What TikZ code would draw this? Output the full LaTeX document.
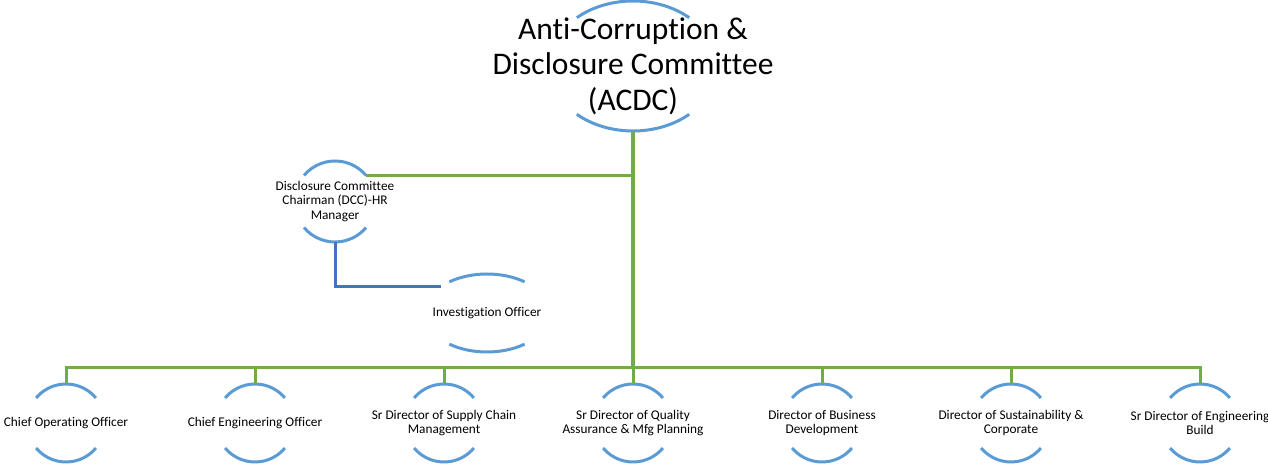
\documentclass[tikz,border=0pt]{standalone}
\usepackage{fontspec}
\setmainfont{Carlito}[Ligatures=NoCommon]
\usepackage{tikz}
\usetikzlibrary{shapes.geometric}

\definecolor{ringblue}{HTML}{5B9BD5}
\definecolor{linkgreen}{HTML}{70AD47}
\definecolor{assistblue}{HTML}{4472C4}

\begin{document}
\begin{tikzpicture}[x=1pt,y=1pt]
\tikzstyle{every node} = [font=\fontsize{13.3}{14.6}\selectfont, align=center]
\tikzstyle{ring} = [circle, inner sep=0pt, outer sep=0pt, minimum size=78pt]
\tikzstyle{oval} = [ellipse, inner sep=0pt, outer sep=0pt]
\tikzstyle{title} = [font=\fontsize{31.5}{35.5}\selectfont]
\tikzstyle{rim} = [draw=ringblue, line width=3pt]
\tikzstyle{link} = [draw=linkgreen, line width=3pt]
\tikzstyle{trunk} = [draw=linkgreen, line width=4pt]
\tikzstyle{helper} = [draw=assistblue, line width=3pt]
\useasboundingbox (0,0) rectangle (1268,465);

\path (633,399) node [oval, minimum width=168pt, minimum height=130pt,
		label={[title]center:Anti-Corruption \&\\Disclosure Committee\\(ACDC)}] (acdc) {}
	(335,263.5) node [ring, minimum size=81pt,
		label={center:Disclosure Committee\\Chairman (DCC)-HR\\Manager}] (dcc) {}
	(487,152) node [oval, minimum width=125pt, minimum height=78pt,
		label={center:Investigation Officer}] (inv) {}
	(66,42) node [ring, label={center:Chief Operating Officer}] (coo) {}
	(255,42) node [ring, label={center:Chief Engineering Officer}] (ceo) {}
	(444,42) node [ring, label={center:Sr Director of Supply Chain\\Management}] (scm) {}
	(633,42) node [ring, label={center:Sr Director of Quality\\Assurance \& Mfg Planning}] (qa) {}
	(822,42) node [ring, label={center:Director of Business\\Development}] (bd) {}
	(1011,42) node [ring, label={center:Director of Sustainability \&\\Corporate}] (sus) {}
	(1200,42) node [ring, label={center:Sr Director of Engineering\\Build}] (eng) {};
\coordinate (bus) at (633,97);

% upper and lower arcs of every box
\foreach \n/\a/\b/\t in {acdc/84/65/48, dcc/40.5/40.5/40, inv/62.5/39/53,
	coo/39/39/40, ceo/39/39/40, scm/39/39/40, qa/39/39/40,
	bd/39/39/40, sus/39/39/40, eng/39/39/40}
{
	\draw[rim] ([shift={({-\a*cos(\t)},{\b*sin(\t)})}]\n.center)
		arc[start angle=180-\t, end angle=\t, x radius=\a, y radius=\b];
	\draw[rim] ([shift={({-\a*cos(\t)},{-\b*sin(\t)})}]\n.center)
		arc[start angle=180+\t, end angle=360-\t, x radius=\a, y radius=\b];
}

	\draw[link] (dcc.40) -- (dcc.40 -| acdc.south);
	\draw[helper] (dcc.south) |- (inv.150);
	\draw[link] (bus) -| (coo.north);
	\draw[link] (bus) -| (ceo.north);
	\draw[link] (bus) -| (scm.north);
	\draw[link] (bus) -- (qa.north);
	\draw[link] (bus) -| (bd.north);
	\draw[link] (bus) -| (sus.north);
	\draw[link] (bus) -| (eng.north);
	\draw[trunk] (acdc.south) -- (bus);
\end{tikzpicture}
\end{document}
